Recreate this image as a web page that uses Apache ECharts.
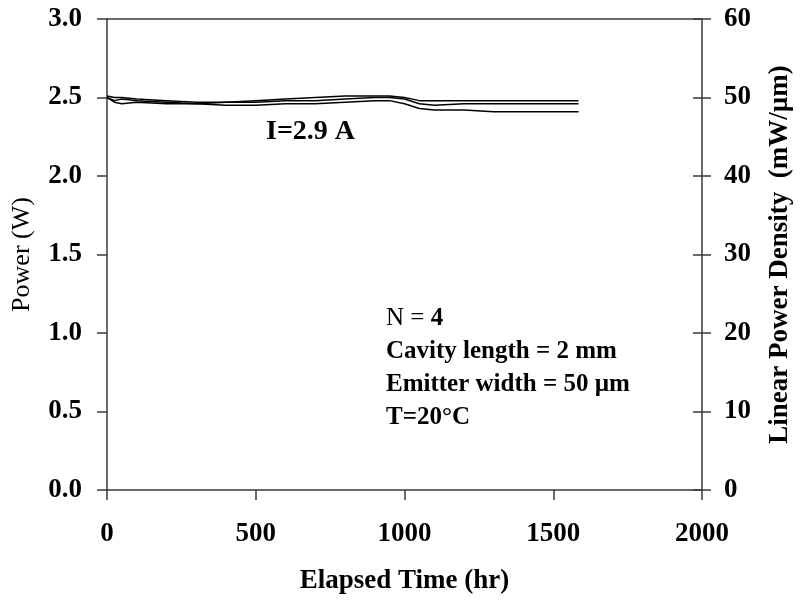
<!DOCTYPE html>
<html>
<head>
<meta charset="utf-8">
<script src="https://cdn.jsdelivr.net/npm/echarts@6/dist/echarts.min.js"></script>
<style>
  html, body { margin: 0; padding: 0; background: #fff; }
  #chart { width: 802px; height: 603px; }
</style>
</head>
<body>
<div id="chart"></div>
<script>
// elapsed time (hr)
const hours = [0, 25, 50, 100, 200, 300, 400, 500, 600, 700, 800, 900, 950, 1000, 1050, 1100, 1200, 1300, 1400, 1500, 1585]
// power (W), three devices
const powerA = [2.51, 2.50, 2.50, 2.49, 2.48, 2.47, 2.47, 2.48, 2.49, 2.50, 2.51, 2.51, 2.51, 2.50, 2.48, 2.48, 2.48, 2.48, 2.48, 2.48, 2.48]
const powerB = [2.50, 2.48, 2.49, 2.48, 2.47, 2.46, 2.47, 2.47, 2.48, 2.48, 2.49, 2.50, 2.50, 2.49, 2.46, 2.45, 2.46, 2.46, 2.46, 2.46, 2.46]
const powerC = [2.50, 2.47, 2.46, 2.47, 2.46, 2.46, 2.45, 2.45, 2.46, 2.46, 2.47, 2.48, 2.48, 2.46, 2.43, 2.42, 2.42, 2.41, 2.41, 2.41, 2.41]
const leftTicks = [0, 0.5, 1.0, 1.5, 2.0, 2.5, 3.0]
const rightTicks = [0, 10, 20, 30, 40, 50, 60]
const timeTicks = [0, 500, 1000, 1500, 2000]

const serif = 'Liberation Serif, Times New Roman, serif'
const axisColor = '#3a3a3a'

function pairs (ys) {
  return hours.map((h, i) => [h, ys[i]])
}

const chart = echarts.init(document.getElementById('chart'))
chart.setOption({
  animation: false,
  backgroundColor: '#fff',
  grid: { left: 107, right: 97, top: 19, bottom: 113, containLabel: false },
  xAxis: [
    {
      type: 'value',
      min: 0,
      max: 2000,
      interval: 500,
      name: 'Elapsed Time (hr)',
      nameLocation: 'middle',
      nameGap: 78,
      nameTextStyle: { fontFamily: serif, fontWeight: 'bold', fontSize: 27, color: '#000' },
      axisLine: { onZero: false, lineStyle: { color: axisColor, width: 1.5 } },
      axisTick: { length: 10, lineStyle: { color: axisColor, width: 1.5 } },
      axisLabel: {
        margin: 31,
        fontFamily: serif,
        fontWeight: 'bold',
        fontSize: 27,
        color: '#000',
        formatter: v => timeTicks.includes(v) ? String(v) : ''
      },
      splitLine: { show: false }
    },
    {
      type: 'value',
      position: 'top',
      min: 0,
      max: 2000,
      axisLine: { show: true, onZero: false, lineStyle: { color: axisColor, width: 1.5 } },
      axisTick: { show: false },
      axisLabel: { show: false },
      splitLine: { show: false }
    }
  ],
  yAxis: [
    {
      type: 'value',
      min: 0,
      max: 3,
      interval: 0.5,
      name: 'Power (W)',
      nameLocation: 'middle',
      nameGap: 72,
      nameTextStyle: { fontFamily: serif, fontSize: 26, color: '#000' },
      axisLine: { show: true, onZero: false, lineStyle: { color: axisColor, width: 1.5 } },
      axisTick: { show: true, length: 10, lineStyle: { color: axisColor, width: 1.5 } },
      axisLabel: {
        margin: 25,
        fontFamily: serif,
        fontWeight: 'bold',
        fontSize: 27,
        color: '#000',
        formatter: v => leftTicks.includes(v) ? v.toFixed(1) : ''
      },
      splitLine: { show: false }
    },
    {
      type: 'value',
      position: 'right',
      min: 0,
      max: 60,
      interval: 10,
      name: 'Linear Power Density  (mW/\u00b5m)',
      nameLocation: 'middle',
      nameGap: 65,
      nameTextStyle: { fontFamily: serif, fontWeight: 'bold', fontSize: 27, color: '#000' },
      axisLine: { show: true, onZero: false, lineStyle: { color: axisColor, width: 1.5 } },
      axisTick: { show: true, length: 9, lineStyle: { color: axisColor, width: 1.5 } },
      axisLabel: {
        margin: 22,
        fontFamily: serif,
        fontWeight: 'bold',
        fontSize: 27,
        color: '#000',
        formatter: v => rightTicks.includes(v) ? String(v) : ''
      },
      splitLine: { show: false }
    },
    {
      // inner half of the right-axis ticks
      type: 'value',
      position: 'right',
      min: 0,
      max: 60,
      interval: 10,
      axisLine: { show: false, onZero: false },
      axisTick: { show: true, inside: true, length: 9, lineStyle: { color: axisColor, width: 1.5 } },
      axisLabel: { show: false },
      splitLine: { show: false }
    }
  ],
  series: [powerA, powerB, powerC].map((ys, i) => ({
    name: 'device ' + (i + 1),
    type: 'line',
    data: pairs(ys),
    showSymbol: false,
    lineStyle: { color: '#000', width: 1.5 }
  })),
  graphic: [
    {
      type: 'text',
      left: 266,
      top: 118,
      style: { text: 'I=2.9 A', font: 'bold 28px ' + serif, fill: '#000' }
    },
    {
      type: 'text',
      left: 386,
      top: 302,
      style: {
        text: '{n|N = }{b|4}\n{b|Cavity length = 2 mm}\n{b|Emitter width = 50 \u00b5m}\n{b|T=20\u00b0C}',
        lineHeight: 33,
        rich: {
          n: { font: '25px ' + serif, fill: '#000', lineHeight: 33 },
          b: { font: 'bold 25px ' + serif, fill: '#000', lineHeight: 33 }
        }
      }
    }
  ]
})
</script>
</body>
</html>
